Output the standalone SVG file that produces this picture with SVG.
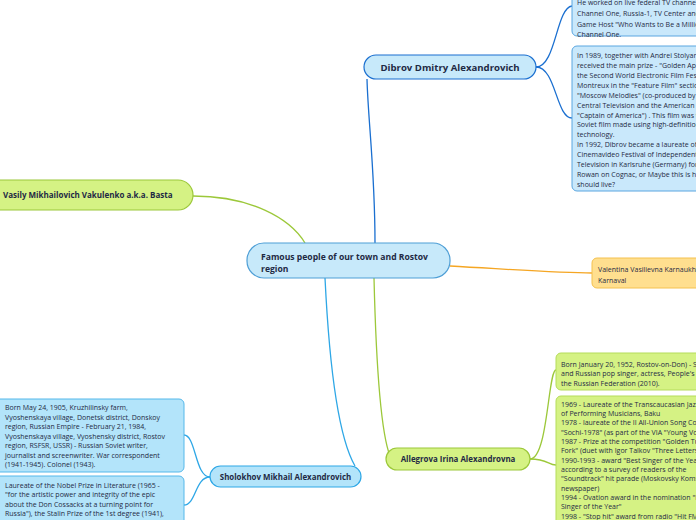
<svg xmlns="http://www.w3.org/2000/svg" width="696" height="520" viewBox="0 0 696 520">
<style>
text{font-family:"Open Sans","Noto Sans","DejaVu Sans",sans-serif;fill:#1f2a44}
.b{font-weight:bold}
.t{font-size:7px}
.c{fill:none;stroke-width:1.3}
</style>
<rect width="696" height="520" fill="#ffffff"/>
<g id="connectors">
<path class="c" stroke="#1a6fd0" d="M375 243 C375 170 368 120 367 79"/>
<path class="c" stroke="#1a6fd0" d="M536 67 C556 67 556 8 572 6"/>
<path class="c" stroke="#1a6fd0" d="M536 67 C556 67 556 118 572 118"/>
<path class="c" stroke="#9cc83a" d="M193 196 C250 196 290 218 305 243"/>
<path class="c" stroke="#f5a623" d="M450 266 C520 270 560 273 592 273"/>
<path class="c" stroke="#2ea7e6" d="M325 278 C330 380 340 440 355 466"/>
<path class="c" stroke="#2ea7e6" d="M210 477 C195 477 196 435 184 435"/>
<path class="c" stroke="#2ea7e6" d="M210 477 C195 477 196 505 184 505"/>
<path class="c" stroke="#9cc83a" d="M374 278 C376 360 380 430 390 456"/>
<path class="c" stroke="#9cc83a" d="M530 459 C548 459 548 370 556 370"/>
<path class="c" stroke="#9cc83a" d="M530 459 C548 459 548 465 556 465"/>
</g>
<g id="center">
<rect x="247" y="243" width="203" height="35" rx="17" fill="#c7e9fa" stroke="#4f9fd6" stroke-width="1.2"/>
<text class="b" x="261" y="260" font-size="8.6">Famous people of our town and Rostov</text>
<text class="b" x="261" y="272" font-size="8.6">region</text>
</g>
<g id="dibrov">
<rect x="364" y="55" width="172" height="24" rx="12" fill="#c7e9fa" stroke="#1a6fd0" stroke-width="1.2"/>
<text class="b" x="450" y="71" font-size="9.6" text-anchor="middle">Dibrov Dmitry Alexandrovich</text>
</g>
<g id="dibrov-tv">
<rect x="572" y="-10" width="140" height="46" rx="5" fill="#c9e8fb" stroke="#5aa6e0" stroke-width="1"/>
<text class="t" x="577" y="5">He worked on live federal TV channels:</text>
<text class="t" x="577" y="16">Channel One, Russia-1, TV Center and others.</text>
<text class="t" x="577" y="27">Game Host "Who Wants to Be a Millionaire?" on</text>
<text class="t" x="577" y="37">Channel One.</text>
</g>
<g id="dibrov-awards">
<rect x="572" y="46" width="140" height="145" rx="5" fill="#c9e8fb" stroke="#5aa6e0" stroke-width="1"/>
<text class="t" x="577" y="58">In 1989, together with Andrei Stolyarov, he</text>
<text class="t" x="577" y="68">received the main prize - "Golden Apple" of</text>
<text class="t" x="577" y="78">the Second World Electronic Film Festival in</text>
<text class="t" x="577" y="88">Montreux in the "Feature Film" section for</text>
<text class="t" x="577" y="98">"Moscow Melodies" (co-produced by Soviet</text>
<text class="t" x="577" y="108">Central Television and the American company</text>
<text class="t" x="577" y="118">"Captain of America") . This film was the first</text>
<text class="t" x="577" y="127">Soviet film made using high-definition</text>
<text class="t" x="577" y="137">technology.</text>
<text class="t" x="577" y="147">In 1992, Dibrov became a laureate of the</text>
<text class="t" x="577" y="157">Cinemavideo Festival of Independent</text>
<text class="t" x="577" y="167">Television in Karlsruhe (Germany) for the film</text>
<text class="t" x="577" y="177">Rowan on Cognac, or Maybe this is how we</text>
<text class="t" x="577" y="187">should live?</text>
</g>
<g id="basta">
<rect x="-20" y="180" width="213" height="30" rx="15" fill="#d5f284" stroke="#9cc83a" stroke-width="1.2"/>
<text class="b" x="3" y="198" font-size="8">Vasily Mikhailovich Vakulenko a.k.a. Basta</text>
</g>
<g id="karnaukh">
<rect x="592" y="258" width="120" height="30" rx="5" fill="#ffdf8f" stroke="#f4c14e" stroke-width="1"/>
<text class="t" x="598" y="272">Valentina Vasilievna Karnaukh -</text>
<text class="t" x="598" y="283">Karnaval</text>
</g>
<g id="sholokhov">
<rect x="210" y="466" width="151" height="21" rx="10.5" fill="#b3e4fa" stroke="#2ea7e6" stroke-width="1.2"/>
<text class="b" x="285.5" y="480" font-size="7.9" text-anchor="middle">Sholokhov Mikhail Alexandrovich</text>
</g>
<g id="sholokhov-bio">
<rect x="-5" y="399" width="189" height="73" rx="5" fill="#b3e4fa" stroke="#55b8ea" stroke-width="1"/>
<text class="t" x="5" y="410">Born May 24, 1905, Kruzhilinsky farm,</text>
<text class="t" x="5" y="419.5">Vyoshenskaya village, Donetsk district, Donskoy</text>
<text class="t" x="5" y="429">region, Russian Empire - February 21, 1984,</text>
<text class="t" x="5" y="438.5">Vyoshenskaya village, Vyoshensky district, Rostov</text>
<text class="t" x="5" y="448">region, RSFSR, USSR) - Russian Soviet writer,</text>
<text class="t" x="5" y="457.5">journalist and screenwriter. War correspondent</text>
<text class="t" x="5" y="467">(1941-1945). Colonel (1943).</text>
</g>
<g id="sholokhov-prizes">
<rect x="-5" y="476" width="189" height="60" rx="5" fill="#b3e4fa" stroke="#55b8ea" stroke-width="1"/>
<text class="t" x="5" y="487.5">Laureate of the Nobel Prize in Literature (1965 -</text>
<text class="t" x="5" y="497">"for the artistic power and integrity of the epic</text>
<text class="t" x="5" y="506.5">about the Don Cossacks at a turning point for</text>
<text class="t" x="5" y="516">Russia"), the Stalin Prize of the 1st degree (1941),</text>
</g>
<g id="allegrova">
<rect x="386" y="448" width="144" height="22" rx="11" fill="#d5f284" stroke="#9cc83a" stroke-width="1.2"/>
<text class="b" x="458" y="462" font-size="7.9" text-anchor="middle">Allegrova Irina Alexandrovna</text>
</g>
<g id="allegrova-bio">
<rect x="556" y="353" width="150" height="37" rx="5" fill="#d5f284" stroke="#b5dc5a" stroke-width="1"/>
<text class="t" x="561" y="366.5">Born January 20, 1952, Rostov-on-Don) - Soviet</text>
<text class="t" x="561" y="376">and Russian pop singer, actress, People's Artist of</text>
<text class="t" x="561" y="385.5">the Russian Federation (2010).</text>
</g>
<g id="allegrova-awards">
<rect x="556" y="396" width="150" height="140" rx="5" fill="#d5f284" stroke="#b5dc5a" stroke-width="1"/>
<text class="t" x="561" y="406.5">1969 - Laureate of the Transcaucasian Jazz Festival</text>
<text class="t" x="561" y="416">of Performing Musicians, Baku</text>
<text class="t" x="561" y="425">1978 - laureate of the II All-Union Song Contest</text>
<text class="t" x="561" y="434.5">"Sochi-1978" (as part of the VIA "Young Voices")</text>
<text class="t" x="561" y="444">1987 - Prize at the competition "Golden Tuning</text>
<text class="t" x="561" y="453">Fork" (duet with Igor Talkov "Three Letters")</text>
<text class="t" x="561" y="462.5">1990-1993 - award "Best Singer of the Year"</text>
<text class="t" x="561" y="472">according to a survey of readers of the</text>
<text class="t" x="561" y="481">"Soundtrack" hit parade (Moskovsky Komsomolets</text>
<text class="t" x="561" y="490.5">newspaper)</text>
<text class="t" x="561" y="500">1994 - Ovation award in the nomination "Best</text>
<text class="t" x="561" y="509">Singer of the Year"</text>
<text class="t" x="561" y="518.5">1998 - "Stop hit" award from radio "Hit FM"</text>
</g>
</svg>
